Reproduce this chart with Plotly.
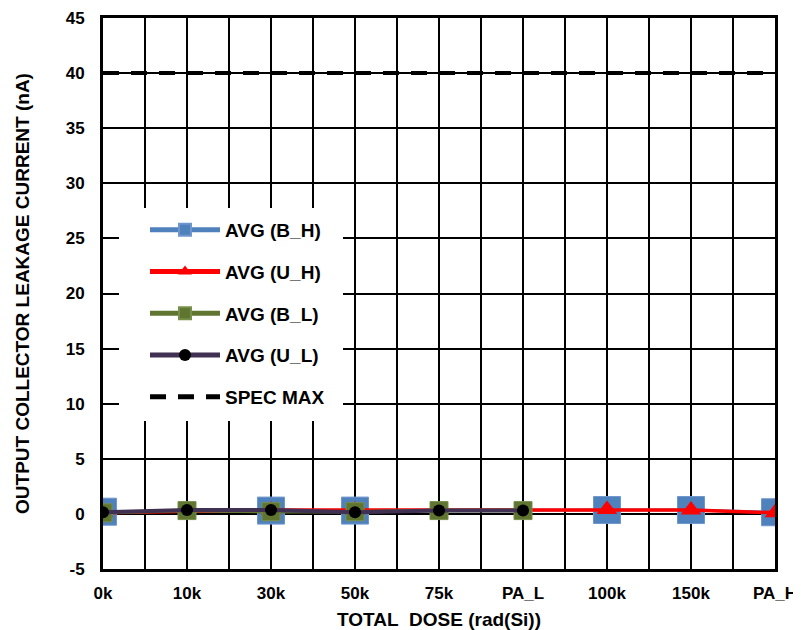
import plotly.graph_objects as go

categories = ["0k", "10k", "30k", "50k", "75k", "PA_L", "100k", "150k", "PA_H"]
avg_b_h = [0.2, None, 0.3, 0.3, None, None, 0.35, 0.35, 0.15]
avg_u_h = [0.1, None, 0.35, 0.35, None, None, 0.4, 0.35, 0.1]
avg_b_l = [0.1, 0.3, 0.2, 0.2, 0.3, 0.3, None, None, None]
avg_u_l = [0.15, 0.35, 0.35, 0.15, 0.3, 0.3, None, None, None]
spec_max = [40] * len(categories)
y_ticks = [-5, 0, 5, 10, 15, 20, 25, 30, 35, 40, 45]
y_tick_text = ["-5", "0", "5", "10", "15", "20", "25", "30", "35", "40", "45"]

xi = list(range(len(categories)))
FONT = "Liberation Sans, Arial, sans-serif"

fig = go.Figure()
fig.add_trace(go.Scatter(
    x=xi, y=avg_b_h, name="AVG (B_H)", mode="lines+markers", connectgaps=True,
    line=dict(color="#4F81BD", width=3),
    marker=dict(symbol="square", size=27, color="#4F81BD", line=dict(color="#6F97CC", width=1)),
))
fig.add_trace(go.Scatter(
    x=xi, y=avg_u_h, name="AVG (U_H)", mode="lines+markers", connectgaps=True,
    line=dict(color="#FF0000", width=3.5),
    marker=dict(symbol="triangle-up", size=18, color="#FF0000"),
))
fig.add_trace(go.Scatter(
    x=xi, y=avg_b_l, name="AVG (B_L)", mode="lines+markers", connectgaps=True,
    line=dict(color="#5F7530", width=3.5),
    marker=dict(symbol="square", size=18, color="#5F7530", line=dict(color="#76904A", width=1)),
))
fig.add_trace(go.Scatter(
    x=xi, y=avg_u_l, name="AVG (U_L)", mode="lines+markers", connectgaps=True,
    line=dict(color="#403152", width=4),
    marker=dict(symbol="circle", size=12, color="#000000"),
))
fig.add_trace(go.Scatter(
    x=xi, y=spec_max, name="SPEC MAX", mode="lines",
    line=dict(color="#000000", width=4, dash="16px,12px"),
))

# plot area: 672 x 551 px
PW, PH = 672, 551
fig.update_layout(
    width=801, height=622,
    margin=dict(l=95, r=34, t=10, b=61),
    paper_bgcolor="white", plot_bgcolor="white",
    font=dict(family=FONT, size=17, color="black"),
    showlegend=True,
    legend=dict(
        x=(145 - 103) / PW, y=(568 - 210) / PH, xanchor="left", yanchor="top",
        bgcolor="rgba(0,0,0,0)", borderwidth=0,
        font=dict(family=FONT, size=19, color="black", weight="bold"),
        tracegroupgap=14, itemsizing="constant", itemwidth=70,
    ),
    shapes=[dict(
        type="rect", xref="paper", yref="paper", layer="above",
        x0=(119 - 103) / PW, x1=(343 - 103) / PW,
        y0=(568 - 420) / PH, y1=(568 - 207) / PH,
        fillcolor="white", line=dict(width=0),
    )],
)
for i, tr in enumerate(fig.data):
    tr.legendgroup = "g%d" % i

fig.update_xaxes(
    range=[0, len(categories) - 1],
    tickmode="array", tickvals=xi, ticktext=categories,
    showgrid=True, gridcolor="black", gridwidth=2,
    minor=dict(dtick=0.5, showgrid=True, gridcolor="black", gridwidth=2),
    showline=True, linecolor="black", linewidth=3, mirror=True,
    ticks="", zeroline=False, ticklabelstandoff=7, ticklabeloverflow="allow",
    tickfont=dict(family=FONT, size=17, color="black", weight="bold"),
    title=dict(text="TOTAL\u00a0 DOSE (rad(Si))", font=dict(family=FONT, size=19, color="black", weight="bold"), standoff=12),
    automargin=False,
)
fig.update_yaxes(
    range=[-5, 45], tickmode="array", tickvals=y_ticks, ticktext=y_tick_text,
    showgrid=True, gridcolor="black", gridwidth=2,
    showline=True, linecolor="black", linewidth=3, mirror=True,
    ticks="", zeroline=False, ticklabelstandoff=12, ticklabeloverflow="allow",
    tickfont=dict(family=FONT, size=17, color="black", weight="bold"),
    title=dict(text="OUTPUT COLLECTOR LEAKAGE CURRENT (nA)", font=dict(family=FONT, size=19, color="black", weight="bold"), standoff=32),
    automargin=False,
)

fig.write_html("out.html")
